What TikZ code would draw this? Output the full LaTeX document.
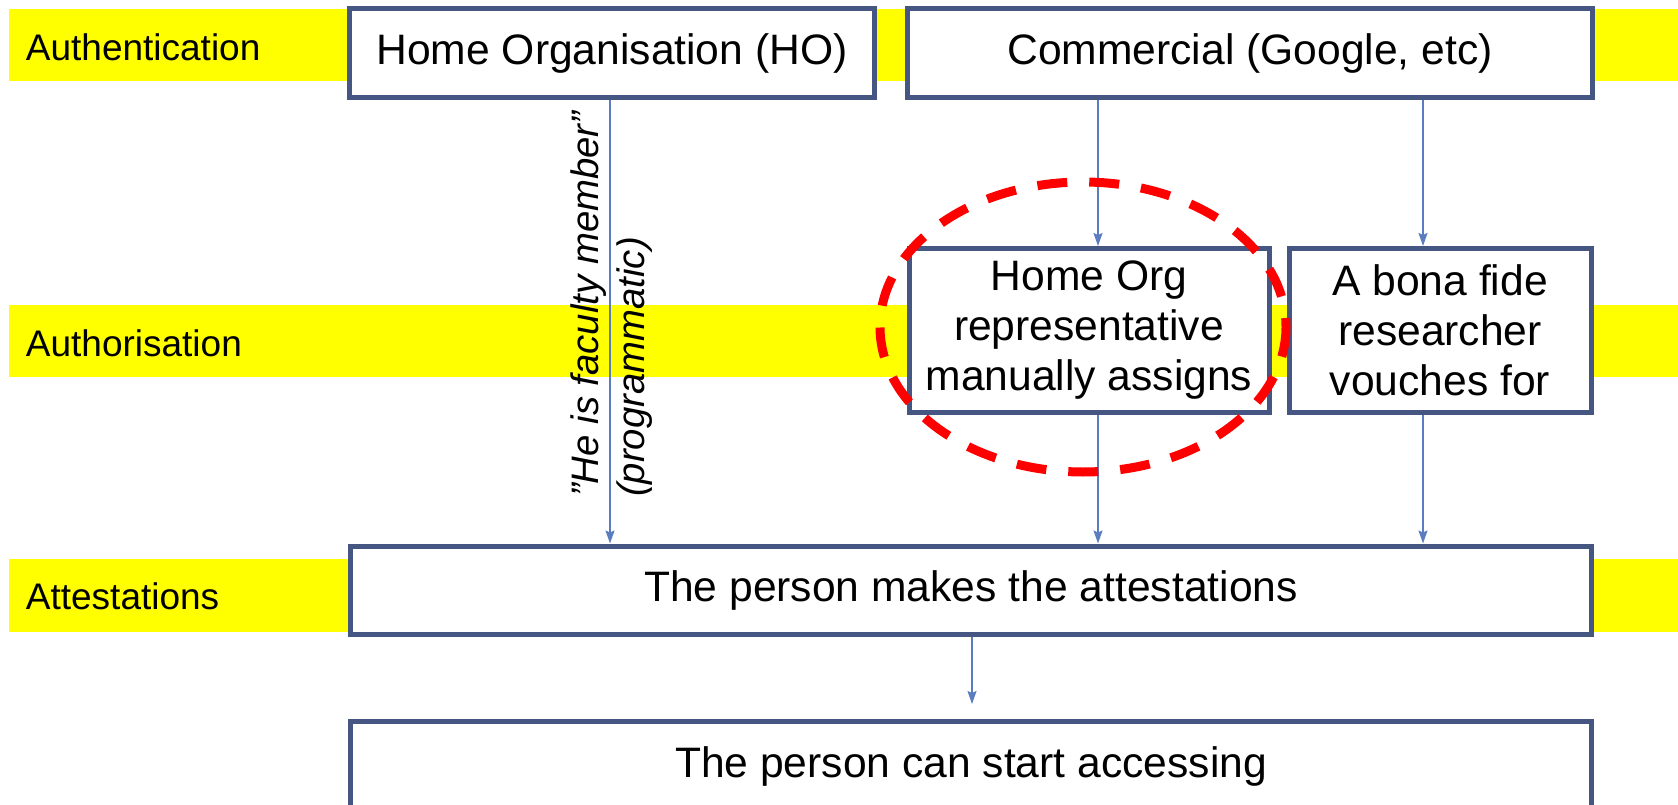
\documentclass[tikz,border=0pt]{standalone}
\usepackage{fontspec}
\setmainfont{Liberation Sans}
\usetikzlibrary{arrows.meta}
\definecolor{boxblue}{RGB}{70,86,130}
\definecolor{arrblue}{RGB}{92,124,192}
\definecolor{bandyellow}{RGB}{255,255,0}
\definecolor{ellred}{RGB}{255,0,0}
\begin{document}
\begin{tikzpicture}[x=1pt,y=-1pt,
  box/.style={draw=boxblue, line width=5pt, fill=white, inner sep=0pt, align=center,
    font=\fontsize{42.6}{50}\selectfont},
  lab/.style={anchor=west, inner sep=0pt, font=\fontsize{37}{44}\selectfont},
  arr/.style={draw=arrblue, line width=1.5pt, -{Stealth[length=13pt,width=9pt,inset=2pt]}},
  bandfill/.style={fill=bandyellow, draw=none}]
\useasboundingbox (0,0) rectangle (1678,805);
\clip (0,0) rectangle (1678,805);
% bands
\fill[bandfill] (8.5,8.6) rectangle (1678,81.3);
\fill[bandfill] (8.5,305) rectangle (1678,377);
\fill[bandfill] (8.5,559) rectangle (1678,632);
% labels
\node[lab] (lauth) at (25.7,47) {Authentication};
\node[lab] (lauthz) at (25.7,343.5) {Authorisation};
\node[lab] (latt) at (25.7,596) {Attestations};
% boxes
\node[box, minimum width=525pt, minimum height=89pt] (ho) at (612,53) {Home Organisation (HO)};
\node[box, minimum width=685pt, minimum height=89pt] (com) at (1250,53) {Commercial (Google, etc)};
\node[box, minimum width=360pt, minimum height=164pt] (hor) at (1089,330.5) {Home Org\\representative\\manually assigns};
\node[box, minimum width=302pt, minimum height=164pt] (bona) at (1440,330.5) {A bona fide\\researcher\\vouches for};
\node[box, minimum width=1241pt, minimum height=88pt] (att) at (971,590) {The person makes the attestations};
\node[box, minimum width=1241pt, minimum height=90pt] (acc) at (971,766) {The person can start accessing};
% rotated annotation
\node[rotate=90, anchor=west, inner sep=0pt, align=left,
  font=\fontsize{38.3}{46}\selectfont\itshape] (fac) at (612,497) {”He is faculty member”\\(programmatic)};
% arrow columns
\coordinate (c1) at (610,0);
\coordinate (c2) at (1098,0);
\coordinate (c3) at (1423,0);
\coordinate (c4) at (972,0);
\coordinate (accend) at (972,704);
\draw[arr] (ho.south -| c1) -- (att.north -| c1);
\draw[arr] (com.south -| c2) -- (hor.north -| c2);
\draw[arr] (com.south -| c3) -- (bona.north -| c3);
\draw[arr] (hor.south -| c2) -- (att.north -| c2);
\draw[arr] (bona.south -| c3) -- (att.north -| c3);
\draw[arr] (att.south -| c4) -- (accend);
% dashed red ellipse
\draw[ellred, line width=9pt, dash pattern=on 30pt off 22pt] (1083,327) ellipse [x radius=203, y radius=145];
\end{tikzpicture}
\end{document}
